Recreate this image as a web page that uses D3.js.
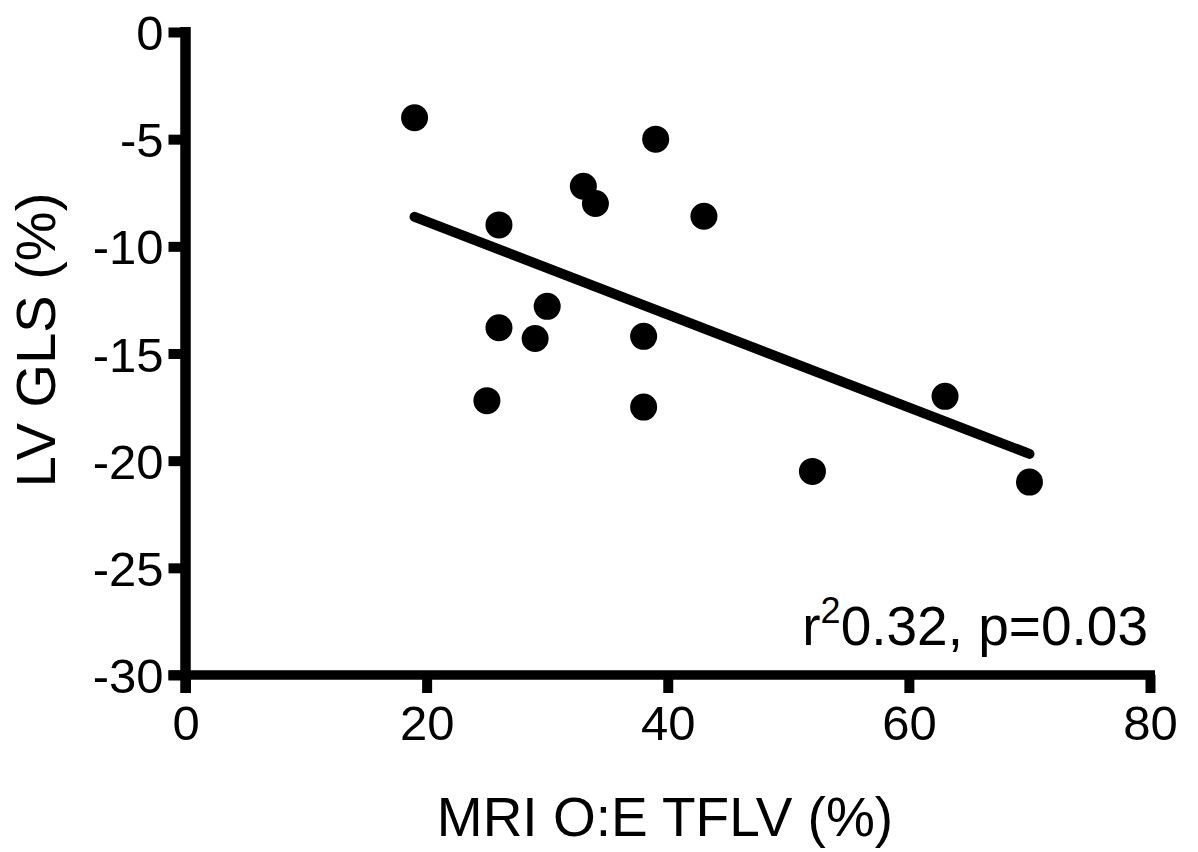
<!DOCTYPE html>
<html>
<head>
<meta charset="utf-8">
<script src="https://cdn.jsdelivr.net/npm/d3@7"></script>
<style>
  body { margin: 0; background: #fff; }
  text { font-family: "Liberation Sans", Arial, sans-serif; fill: #000; }
</style>
</head>
<body>
<svg id="chart" width="1198" height="852"></svg>
<script>
"use strict"

// MRI O:E TFLV (%) vs LV GLS (%)
const tflv = [19, 39, 33, 34, 43, 26, 30, 26, 29, 38, 25, 38, 63, 52, 70]
const gls = [-4.0, -5.0, -7.2, -8.0, -8.6, -9.0, -12.8, -13.8, -14.3, -14.2, -17.2, -17.5, -17.0, -20.5, -21.0]
const xTicks = [0, 20, 40, 60, 80]
const yTicks = [0, -5, -10, -15, -20, -25, -30]
const xTitle = "MRI O:E TFLV (%)"
const yTitle = "LV GLS (%)"

const svg = d3.select("#chart")

let x = d3.scaleLinear().domain([0, 80]).range([185.5, 1150]),
    y = d3.scaleLinear().domain([-30, 0]).range([675, 32])

// least squares fit, drawn over the data range
let mx = d3.mean(tflv), my = d3.mean(gls)
let sxy = d3.sum(tflv, (v, i) => (v - mx) * (gls[i] - my)),
    sxx = d3.sum(tflv, v => (v - mx) * (v - mx))
let slope = sxy / sxx, icept = my - slope * mx
let fitX = d3.extent(tflv)

// axes
let xAxis = svg.append("g")
    .attr("transform", "translate(0," + y(-30) + ")")
    .call(d3.axisBottom(x).tickValues(xTicks).tickSize(18).tickPadding(12).tickFormat(d3.format("d")))
let yAxis = svg.append("g")
    .attr("transform", "translate(" + x(0) + ",0)")
    .call(d3.axisLeft(y).tickValues(yTicks).tickSize(17).tickPadding(5).tickFormat(d => d))

xAxis.select(".domain").remove()
yAxis.select(".domain").remove()

svg.append("line")
    .attr("x1", x(0) - 17).attr("x2", x(80) + 5)
    .attr("y1", y(-30)).attr("y2", y(-30))
    .attr("stroke", "#000").attr("stroke-width", 9.5)
svg.append("line")
    .attr("x1", x(0)).attr("x2", x(0))
    .attr("y1", y(0) - 5).attr("y2", y(-30) + 18)
    .attr("stroke", "#000").attr("stroke-width", 10.5)

svg.selectAll(".tick line").attr("stroke", "#000").attr("stroke-width", 10)
xAxis.selectAll(".tick line").attr("y1", 0)
svg.selectAll(".tick text")
    .style("font-size", "49px")
    .style("font-family", "'Liberation Sans', Arial, sans-serif")
    .attr("fill", "#000")
yAxis.selectAll(".tick text").attr("dy", "0.36em")

// fit line
svg.append("line")
    .attr("x1", x(fitX[0])).attr("y1", y(icept + slope * fitX[0]))
    .attr("x2", x(fitX[1])).attr("y2", y(icept + slope * fitX[1]))
    .attr("stroke", "#000").attr("stroke-width", 10)
    .attr("stroke-linecap", "round")

// points
svg.append("g").selectAll("circle")
    .data(tflv)
    .enter().append("circle")
    .attr("cx", d => x(d))
    .attr("cy", (d, i) => y(gls[i]))
    .attr("r", 13.5)
    .attr("fill", "#000")

// titles
svg.append("text")
    .attr("x", 665).attr("y", 836)
    .attr("text-anchor", "middle")
    .style("font-size", "55px")
    .text(xTitle)

svg.append("text")
    .attr("transform", "translate(55,340) rotate(-90)")
    .attr("text-anchor", "middle")
    .style("font-size", "56px")
    .text(yTitle)

// annotation
let ann = svg.append("text")
    .attr("x", 1148).attr("y", 645)
    .attr("text-anchor", "end")
    .style("font-size", "55px")
ann.append("tspan").text("r")
ann.append("tspan").attr("dy", -22).style("font-size", "36px").text("2")
ann.append("tspan").attr("dy", 22).text("0.32, p=0.03")
</script>
</body>
</html>
